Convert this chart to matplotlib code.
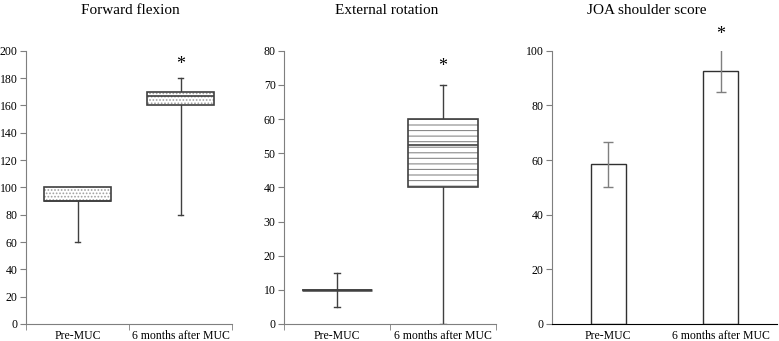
import matplotlib
matplotlib.use("Agg")
import matplotlib.pyplot as plt
from matplotlib.patches import PathPatch

plt.rcParams['font.family'] = ['Liberation Serif', 'DejaVu Serif']
plt.rcParams['hatch.linewidth'] = 0.8

categories = ["Pre-MUC", "6 months after MUC"]

# Forward flexion box stats
ff_whislo = [60, 80]
ff_q1 = [90, 160]
ff_med = [90, 167]
ff_q3 = [100, 170]
ff_whishi = [100, 180]

# External rotation box stats
er_whislo = [5, 0]
er_q1 = [10, 40]
er_med = [10, 52.5]
er_q3 = [10, 60]
er_whishi = [15, 70]

# JOA shoulder score
joa_mean = [58.5, 92.7]
joa_err = [8.2, 7.9]

titles = ["Forward flexion", "External rotation", "JOA shoulder score"]
star_y = [190, 75.5, 106]

fig = plt.figure(figsize=(7.79, 3.41), dpi=100)
H = 341.0
W = 779.0
ax1 = fig.add_axes([26 / W, (H - 324) / H, (232 - 26) / W, (324 - 50.7) / H])
ax2 = fig.add_axes([284 / W, (H - 324) / H, (496 - 284) / W, (324 - 50.7) / H])
ax3 = fig.add_axes([552 / W, (H - 324) / H, (777 - 552) / W, (324 - 50.7) / H])

gray = '#7f7f7f'


def style_axes(ax, axis_col):
    for s in ['top', 'right']:
        ax.spines[s].set_visible(False)
    ax.spines['left'].set_color(gray)
    ax.spines['bottom'].set_color(axis_col)
    ax.tick_params(axis='y', direction='out', length=4, color=gray, labelsize=8.5, pad=2)
    ax.set_xlim(-0.5, 1.5)
    ax.set_xticks([0, 1])
    ax.set_xticklabels(categories, fontsize=8.5)
    ax.tick_params(axis='x', which='major', length=0, pad=4)


def boxes(ax, wl, q1, med, q3, wh, hatch, hcol):
    stats = []
    for i in range(2):
        stats.append(dict(whislo=wl[i], q1=q1[i], med=med[i], q3=q3[i], whishi=wh[i], fliers=[]))
    bp = ax.bxp(stats, positions=[0, 1], widths=0.66, patch_artist=True,
                showfliers=False, capwidths=0.05,
                boxprops=dict(facecolor='none', edgecolor='#404040', linewidth=1.2, zorder=3),
                medianprops=dict(color='#404040', linewidth=1.2, zorder=4),
                whiskerprops=dict(color='#404040', linewidth=1.0),
                capprops=dict(color='#404040', linewidth=1.0))
    for b in bp['boxes']:
        pp = PathPatch(b.get_path(), transform=b.get_transform(), facecolor='white',
                       edgecolor=hcol, linewidth=0, hatch=hatch, zorder=2.5)
        ax.add_patch(pp)
    return bp


# Panel 1
boxes(ax1, ff_whislo, ff_q1, ff_med, ff_q3, ff_whishi, '.....', '#a0a0a0')
style_axes(ax1, gray)
ax1.set_ylim(0, 200)
ax1.set_yticks(range(0, 201, 20))
ax1.set_xticks([-0.5, 0.5, 1.5], minor=True)
ax1.tick_params(axis='x', which='minor', length=4, color=gray)

# Panel 2
bp2 = boxes(ax2, er_whislo, er_q1, er_med, er_q3, er_whishi, '---', '#8a8a8a')
bp2['medians'][0].set_linewidth(1.8)
style_axes(ax2, gray)
ax2.set_ylim(0, 80)
ax2.set_yticks(range(0, 81, 10))
ax2.set_xticks([-0.5, 0.5, 1.5], minor=True)
ax2.tick_params(axis='x', which='minor', length=4, color=gray)

# Panel 3
ax3.bar([0, 1], joa_mean, width=0.31, color='white', edgecolor='#303030', linewidth=1.0)
ax3.errorbar([0, 1], joa_mean, yerr=joa_err, fmt='none', ecolor=gray, elinewidth=1.0, capsize=3.5)
style_axes(ax3, 'black')
ax3.set_ylim(0, 100)
ax3.set_yticks(range(0, 101, 20))

for ax, sy in zip([ax1, ax2, ax3], star_y):
    ax.text(1, sy, '*', ha='center', va='center', fontsize=13, clip_on=False)

fig.text(130 / W, 1 - 11 / H, titles[0], ha='center', va='center', fontsize=11)
fig.text(387 / W, 1 - 11 / H, titles[1], ha='center', va='center', fontsize=11)
fig.text(647 / W, 1 - 11 / H, titles[2], ha='center', va='center', fontsize=11)

fig.savefig('out.png', dpi=100, facecolor='white')
